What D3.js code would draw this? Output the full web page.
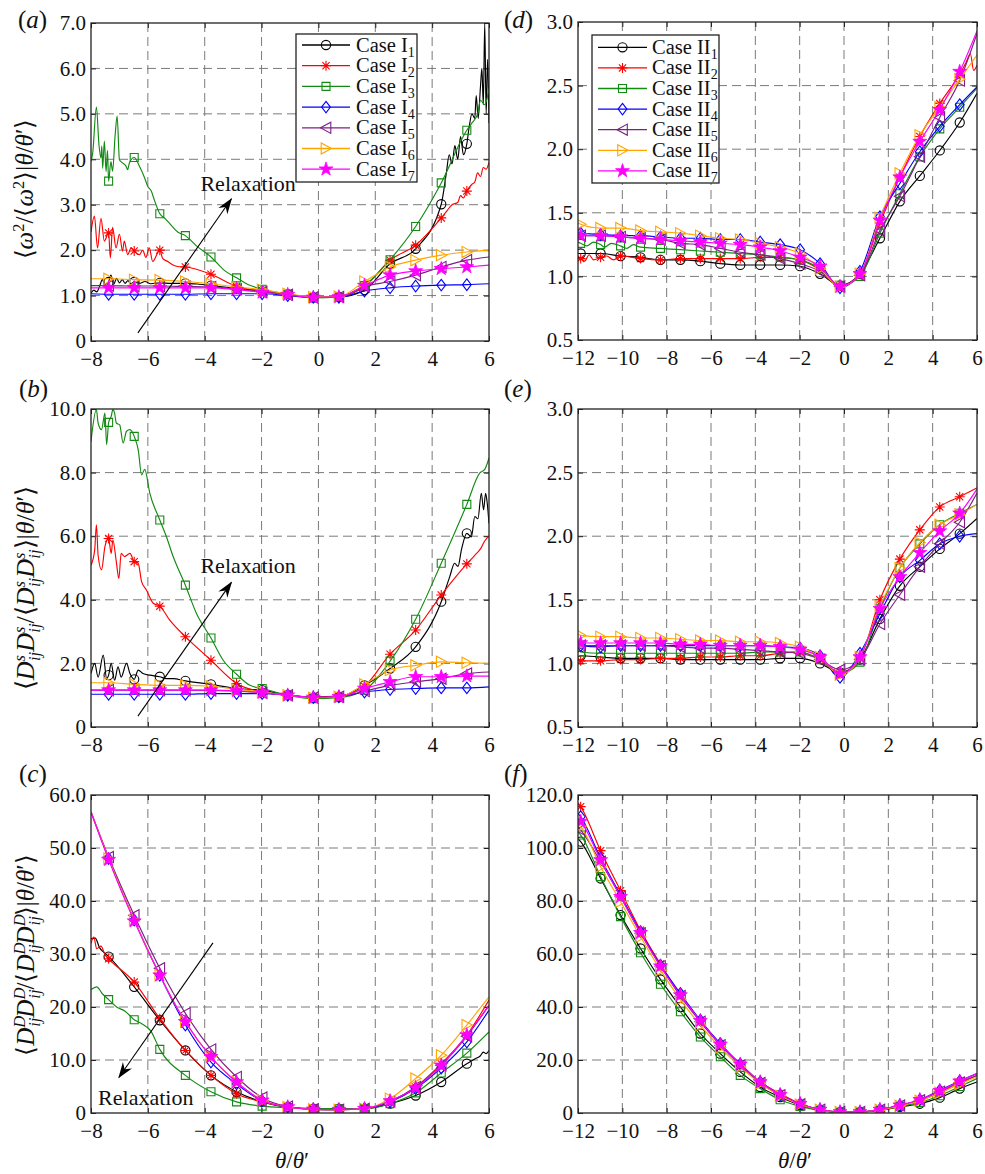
<!DOCTYPE html>
<html><head><meta charset="utf-8">
<script src="https://cdn.jsdelivr.net/npm/d3@7"></script>
<style>body{margin:0;background:#fff}svg{display:block}text{font-family:"Liberation Serif","Times New Roman","DejaVu Serif",serif;fill:#111}</style>
</head><body><svg id="c" width="985" height="1174"></svg>
<script>
// ---------- data ----------
const xTicksI = [-8,-6,-4,-2,0,2,4,6];
const xTicksII = [-12,-10,-8,-6,-4,-2,0,2,4,6];
const yTicksA = [0,1,2,3,4,5,6,7];
const yTicksB = [0,2,4,6,8,10];
const yTicksC = [0,10,20,30,40,50,60];
const yTicksD = [0.5,1,1.5,2,2.5,3];
const yTicksE = [0.5,1,1.5,2,2.5,3];
const yTicksF = [0,20,40,60,80,100,120];

// sample positions (first/last are line ends, the rest carry markers)
const xsI = [-8,-7.38,-6.48,-5.58,-4.68,-3.78,-2.88,-1.98,-1.08,-0.18,0.72,1.62,2.52,3.42,4.32,5.22,6];
const xsII = [-12,-11.88,-10.98,-10.08,-9.18,-8.28,-7.38,-6.48,-5.58,-4.68,-3.78,-2.88,-1.98,-1.08,-0.18,0.72,1.62,2.52,3.42,4.32,5.22,6];

const subsI = ["1","2","3","4","5","6","7"];
const caseI = "Case I", caseII = "Case II";

// panel (a)
const a1 = [1.05,1.3,1.3,1.28,1.27,1.22,1.16,1.1,1.03,0.96,0.97,1.12,1.7,2.03,3.01,4.34,4.8];
const a2 = [2.4,2.38,1.98,2.0,1.63,1.47,1.2,1.1,1.03,0.96,0.97,1.2,1.78,2.11,2.71,3.3,3.93];
const a3 = [3.95,3.52,4.04,2.8,2.32,1.85,1.39,1.14,1.03,0.95,0.97,1.22,1.79,2.52,3.48,4.64,5.56];
const a4 = [1.04,1.03,1.03,1.03,1.03,1.04,1.04,1.04,1.0,0.96,0.96,1.1,1.17,1.21,1.23,1.24,1.26];
const a5 = [1.22,1.22,1.21,1.21,1.2,1.19,1.14,1.08,1.02,0.96,0.97,1.2,1.31,1.45,1.63,1.78,1.85];
const a6 = [1.37,1.37,1.35,1.34,1.31,1.26,1.19,1.13,1.04,0.97,0.98,1.31,1.63,1.78,1.89,1.96,2.0];
const a7 = [1.17,1.17,1.17,1.17,1.17,1.17,1.13,1.07,1.02,0.96,0.97,1.22,1.45,1.54,1.59,1.63,1.67];
const a1n = [[-7.9,1.12],[-7.8,1.08],[-7.7,1.2],[-7.6,1.35],[-7.5,1.2],[-7.3,1.45],[-7.2,1.25],[-7.1,1.38],[-7.0,1.28],[-6.9,1.35],[-6.8,1.27],[-6.7,1.33],[-6.6,1.26],[-6.3,1.27],[-6.1,1.31],[-5.9,1.26],[-5.2,1.27],[-4.2,1.25],[4.5,3.7],[4.6,4.1],[4.7,3.9],[4.8,4.3],[4.9,4.0],[5.0,4.5],[5.1,4.1],[5.3,4.7],[5.4,5.0],[5.5,4.9],[5.55,5.4],[5.62,4.9],[5.7,5.6],[5.75,6.0],[5.8,5.2],[5.85,7.0],[5.9,5.0],[5.95,6.2]];
const a2n = [[-7.88,2.75],[-7.77,2.05],[-7.65,2.7],[-7.53,2.2],[-7.32,1.83],[-7.24,2.5],[-7.12,2.05],[-7.0,2.35],[-6.89,1.98],[-6.83,2.2],[-6.71,1.9],[-6.59,2.05],[-6.3,1.9],[-6.18,2.0],[-6.07,1.84],[-5.95,2.05],[-5.83,1.75],[-5.48,1.82],[-5.3,1.75],[-5.13,1.68],[-4.95,1.64],[4.5,2.85],[4.7,3.0],[4.9,3.05],[5.0,3.2],[5.1,3.15],[5.4,3.45],[5.5,3.5],[5.6,3.7],[5.7,3.62],[5.8,3.82],[5.9,3.78]];
const a3n = [[-7.94,4.14],[-7.81,5.15],[-7.72,4.32],[-7.65,4.03],[-7.62,4.29],[-7.59,3.8],[-7.53,4.4],[-7.47,3.73],[-7.42,4.2],[-7.3,3.95],[-7.24,3.74],[-7.15,4.54],[-7.08,4.95],[-7.0,3.99],[-6.89,3.92],[-6.77,3.85],[-6.71,3.77],[-6.65,3.92],[-6.3,3.85],[-6.12,3.6],[-6.0,3.4],[-5.88,3.3],[-5.77,3.1],[-5.4,2.7],[-5.2,2.56],[-4.95,2.4],[-4.3,2.1],[-3.3,1.55],[-2.5,1.25],[5.4,4.8],[5.6,5.0],[5.7,5.3],[5.85,5.2]];

// panel (b)
const b1 = [1.68,1.63,1.5,1.58,1.45,1.34,1.21,1.16,1.0,0.92,0.95,1.31,1.84,2.52,3.94,6.09,6.4];
const b2 = [5.09,5.93,5.2,3.8,2.84,2.1,1.37,1.1,1.0,0.95,0.97,1.28,2.29,3.05,4.15,5.13,6.01];
const b3 = [8.98,9.58,9.14,6.51,4.46,2.8,1.66,1.21,1.0,0.89,0.92,1.16,2.07,3.39,5.15,7.0,8.46];
const b4 = [1.03,1.03,1.03,1.03,1.03,1.05,1.05,1.05,1.0,0.93,0.95,1.1,1.18,1.21,1.23,1.23,1.26];
const b5 = [1.16,1.16,1.16,1.16,1.16,1.15,1.13,1.08,1.0,0.93,0.95,1.13,1.31,1.42,1.52,1.68,1.73];
const b6 = [1.39,1.39,1.34,1.31,1.31,1.28,1.19,1.1,1.0,0.92,0.95,1.34,1.79,1.94,2.05,2.02,2.0];
const b7 = [1.16,1.16,1.16,1.16,1.16,1.16,1.14,1.08,1.0,0.93,0.95,1.21,1.42,1.58,1.58,1.6,1.6];
const b1n = [[-7.87,2.0],[-7.75,1.57],[-7.57,2.26],[-7.45,1.52],[-7.29,2.0],[-7.17,1.47],[-7.05,1.89],[-6.94,1.57],[-6.75,2.0],[-6.63,1.68],[-6.34,1.79],[-6.17,1.68],[-5.93,1.63],[-5.35,1.52],[-5.11,1.52],[4.62,4.73],[4.79,5.15],[4.91,5.05],[5.03,5.57],[5.38,5.98],[5.5,6.62],[5.61,6.55],[5.73,7.35],[5.81,6.83],[5.88,7.35],[5.93,7.1]];
const b2n = [[-7.87,5.57],[-7.81,6.36],[-7.75,5.4],[-7.63,4.94],[-7.51,5.67],[-7.29,5.46],[-7.23,5.88],[-7.11,5.2],[-7.02,4.67],[-6.94,5.46],[-6.82,5.36],[-6.63,5.46],[-6.34,5.15],[-6.22,4.57],[-6.05,4.31],[-5.81,3.89],[-5.23,3.36],[5.5,5.4],[5.7,5.6],[5.85,5.85]];
const b3n = [[-7.81,9.98],[-7.75,9.56],[-7.63,9.35],[-7.51,9.87],[-7.45,8.88],[-7.29,9.77],[-7.23,9.98],[-7.17,9.87],[-7.11,9.56],[-6.99,9.5],[-6.87,8.93],[-6.75,9.3],[-6.63,9.35],[-6.34,8.72],[-6.22,7.93],[-6.11,8.1],[-5.93,7.35],[-5.35,5.99],[-5.11,5.36],[-4.29,3.57],[-3.35,2.1],[-2.41,1.31],[5.67,7.98],[5.85,8.1]];

// panel (c)
const c1 = [32.9,29.5,23.8,17.5,11.8,7.1,4.0,2.1,1.13,0.82,0.82,0.82,1.76,3.3,5.85,9.3,11.8];
const c2 = [32.0,29.1,24.7,17.8,11.8,7.1,3.65,2.1,1.13,0.69,0.63,0.82,2.1,4.9,9.3,14.7,21.3];
const c3 = [23.3,21.4,17.6,12.0,7.1,4.0,2.1,1.3,1.0,0.82,0.82,0.82,1.76,3.8,7.55,11.3,15.3];
const c4 = [56.8,48.0,36.4,26.0,16.6,9.6,5.5,2.3,1.13,0.69,0.63,0.82,2.1,4.6,8.5,13.4,19.4];
const c5 = [56.8,48.3,37.3,27.3,18.8,12.0,6.8,2.9,1.2,0.69,0.63,0.82,2.2,4.9,9.0,14.5,20.3];
const c6 = [56.8,48.0,36.4,26.0,17.2,10.6,5.85,2.4,1.13,0.69,0.63,0.82,2.7,6.5,10.9,16.6,21.9];
const c7 = [56.8,47.8,36.2,26.0,17.2,10.6,5.85,2.4,1.13,0.69,0.63,0.82,2.27,4.78,9.0,14.7,20.3];
const c1n = [[-7.85,33.0],[-7.7,31.2],[-7.55,30.3],[5.5,10.2],[5.7,10.8],[5.8,11.5],[5.9,11.2]];
const c2n = [[-7.9,33.2],[-7.8,31.0],[-7.65,31.5],[-7.5,29.8]];
const c3n = [[-7.8,23.8],[-7.6,22.5],[-7.1,20.0],[-6.8,19.2],[-6.2,16.8],[-5.9,15.5]];

// panel (d)
const d1 = [1.18,1.18,1.18,1.16,1.15,1.13,1.13,1.12,1.10,1.09,1.09,1.09,1.08,1.02,0.93,1.02,1.30,1.59,1.79,1.99,2.21,2.44];
const d2 = [1.14,1.14,1.15,1.16,1.14,1.13,1.14,1.14,1.14,1.14,1.15,1.15,1.13,1.05,0.92,1.02,1.42,1.78,2.10,2.36,2.59,2.66];
const d3v = [1.27,1.26,1.25,1.24,1.23,1.22,1.21,1.20,1.19,1.18,1.17,1.15,1.13,1.06,0.93,1.0,1.34,1.65,1.94,2.16,2.33,2.48];
const d4 = [1.35,1.34,1.33,1.32,1.32,1.31,1.30,1.30,1.29,1.29,1.27,1.25,1.21,1.10,0.91,1.04,1.47,1.73,1.98,2.18,2.35,2.49];
const d5 = [1.32,1.32,1.32,1.31,1.30,1.29,1.26,1.25,1.22,1.19,1.17,1.14,1.10,1.04,0.92,1.01,1.36,1.63,1.94,2.25,2.54,2.91];
const d6 = [1.42,1.41,1.38,1.38,1.36,1.35,1.34,1.32,1.30,1.29,1.26,1.23,1.18,1.06,0.92,1.02,1.46,1.81,2.11,2.33,2.55,2.74];
const d7 = [1.32,1.32,1.32,1.31,1.30,1.29,1.28,1.27,1.26,1.25,1.23,1.20,1.15,1.08,0.92,1.02,1.44,1.78,2.06,2.31,2.61,2.93];
const d2n = [[-11.7,1.12],[-11.5,1.17],[-11.3,1.13],[-10.7,1.16],[-10.4,1.13],[5.5,2.68],[5.7,2.75],[5.85,2.62]];
const d3n = [[-11.6,1.24],[-11.3,1.27],[-10.8,1.23],[-10.5,1.26],[-9.8,1.22],[-9.5,1.25]];

// panel (e)
const e1 = [1.05,1.06,1.05,1.04,1.04,1.04,1.03,1.03,1.03,1.03,1.03,1.04,1.04,1.0,0.93,1.03,1.35,1.61,1.76,1.90,2.02,2.14];
const e2 = [1.03,1.02,1.02,1.03,1.03,1.04,1.04,1.05,1.05,1.06,1.06,1.08,1.09,1.03,0.92,1.04,1.50,1.82,2.05,2.23,2.31,2.38];
const e3 = [1.10,1.09,1.08,1.08,1.08,1.08,1.08,1.08,1.08,1.08,1.09,1.09,1.09,1.03,0.92,1.01,1.43,1.75,1.94,2.09,2.18,2.25];
const e4 = [1.16,1.14,1.13,1.14,1.14,1.14,1.14,1.14,1.14,1.14,1.14,1.13,1.12,1.06,0.89,1.08,1.39,1.68,1.81,1.94,2.0,2.02];
const e5 = [1.14,1.14,1.14,1.14,1.14,1.14,1.13,1.12,1.12,1.11,1.10,1.09,1.08,1.03,0.95,1.03,1.31,1.54,1.76,1.94,2.11,2.34];
const e6 = [1.23,1.22,1.21,1.21,1.20,1.20,1.19,1.18,1.18,1.17,1.17,1.16,1.13,1.05,0.91,1.05,1.45,1.75,1.95,2.09,2.17,2.25];
const e7 = [1.17,1.16,1.16,1.16,1.16,1.16,1.15,1.15,1.14,1.14,1.14,1.13,1.11,1.05,0.92,1.05,1.43,1.68,1.87,2.04,2.18,2.37];

// panel (f)
const f1 = [103.5,102.4,88.5,74.7,62.1,50.4,40.0,30.0,22.4,15.5,9.8,6.0,2.9,1.0,0.25,0.4,1.0,2.3,3.5,5.8,9.2,11.7];
const f2 = [117,115.6,99.0,83.9,69.0,56.2,44.5,34.8,25.9,18.6,11.7,7.3,3.5,1.3,0.4,0.4,1.3,2.9,4.8,7.6,11.1,14.2];
const f3 = [106,104.9,89.2,74.1,60.5,48.6,38.2,28.7,21.2,14.2,9.2,5.0,2.5,1.0,0.3,0.4,1.0,2.5,4.0,6.5,10.0,13.0];
const f4 = [113,111.8,96.1,82.2,68.4,55.8,45.1,35.0,26.2,18.4,11.7,6.9,3.5,1.3,0.4,0.4,1.3,2.9,5.0,8.6,12.1,14.9];
const f5 = [108,106.8,94.8,81.6,67.8,55.4,44.1,34.4,25.6,18.0,11.3,6.7,3.3,1.2,0.4,0.4,1.2,2.8,4.8,8.0,11.5,14.2];
const f6 = [109,108.1,92.9,79.7,66.5,53.9,42.8,33.1,24.7,17.4,11.1,6.5,3.2,1.2,0.4,0.4,1.2,2.7,4.6,7.6,11.0,13.6];
const f7 = [111,110.0,95.5,81.6,68.0,55.4,44.5,34.8,25.9,18.4,11.7,6.9,3.5,1.3,0.4,0.4,1.3,2.9,5.0,8.4,12.0,14.9];

// ---------- styles ----------
const colors = ["#000000","#ff0000","#138a13","#0000ff","#7e1f86","#ffa500","#ff00ff"];
const symbols = ["o","*","s","d","<",">","p"];
const SERIF = '"Liberation Serif","Times New Roman",serif';

const svg = d3.select("#c");
const defs = svg.append("defs");
defs.append("marker").attr("id","ah").attr("viewBox","-17 -7 19 14").attr("markerWidth",19).attr("markerHeight",14)
  .attr("markerUnits","userSpaceOnUse").attr("orient","auto").attr("refX",0).attr("refY",0)
  .append("path").attr("d","M1,0 L-15,-5.5 L-10,0 L-15,5.5 Z").attr("fill","#000");

function symPath(t, x, y){
  switch(t){
    case "*": return `M${x-5},${y}H${x+5}M${x},${y-5}V${y+5}M${x-3.6},${y-3.6}L${x+3.6},${y+3.6}M${x-3.6},${y+3.6}L${x+3.6},${y-3.6}`;
    case "s": return `M${x-4},${y-4}h8v8h-8Z`;
    case "d": return `M${x},${y-5.8}L${x+4.4},${y}L${x},${y+5.8}L${x-4.4},${y}Z`;
    case "<": return `M${x-5.5},${y}L${x+4.8},${y-5.6}L${x+4.8},${y+5.6}Z`;
    case ">": return `M${x+5.5},${y}L${x-4.8},${y-5.6}L${x-4.8},${y+5.6}Z`;
    case "p": return d3.symbol(d3.symbolStar, 60)().replace(/(-?\d*\.?\d+(?:e-?\d+)?),(-?\d*\.?\d+(?:e-?\d+)?)/g,(m,a,b)=>`${(+a+x).toFixed(2)},${(+b+y).toFixed(2)}`);
  }
}
function drawSym(g, t, x, y, c){
  if(t==="o"){ g.append("circle").attr("cx",x).attr("cy",y).attr("r",4.6).attr("fill","none").attr("stroke",c).attr("stroke-width",1.1); return; }
  const p = g.append("path").attr("d",symPath(t,x,y)).attr("stroke",c).attr("stroke-width",1.1);
  if(t==="p") p.attr("fill",c).attr("stroke-width",0.8); else p.attr("fill","none");
}

function yFmt(v){ return v===0 ? "0" : d3.format(".1f")(v); }

let clipId = 0;
function panel(cfg){
  const {x0,x1,y0,y1,xd,yd,xt,yt,xs,series,noise} = cfg;
  const x = d3.scaleLinear().domain(xd).range([x0,x1]);
  const y = d3.scaleLinear().domain(yd).range([y1,y0]);
  const g = svg.append("g");
  // grid
  const gg = g.append("g").attr("stroke","#7a7a7a").attr("stroke-width",1).attr("stroke-dasharray","9,5");
  xt.filter(v=>v>xd[0]&&v<xd[1]).forEach(v=>gg.append("line").attr("x1",x(v)).attr("x2",x(v)).attr("y1",y0).attr("y2",y1));
  yt.filter(v=>v>yd[0]&&v<yd[1]).forEach(v=>gg.append("line").attr("x1",x0).attr("x2",x1).attr("y1",y(v)).attr("y2",y(v)));
  // axes
  const fs = "21px";
  const ax = g.append("g").attr("transform",`translate(0,${y1})`).call(d3.axisBottom(x).tickValues(xt).tickSize(-5).tickPadding(10).tickFormat(d3.format("d")));
  const axT = g.append("g").attr("transform",`translate(0,${y0})`).call(d3.axisTop(x).tickValues(xt).tickSize(-5).tickFormat(""));
  const ay = g.append("g").attr("transform",`translate(${x0},0)`).call(d3.axisLeft(y).tickValues(yt).tickSize(-5).tickPadding(5).tickFormat(yFmt));
  const ayR = g.append("g").attr("transform",`translate(${x1},0)`).call(d3.axisRight(y).tickValues(yt).tickSize(-5).tickFormat(""));
  [ax,axT,ay,ayR].forEach(a=>{a.attr("font-family",null).attr("font-size",null); a.select(".domain").remove(); a.selectAll("line").attr("stroke","#222");
    a.selectAll("text").style("font-size",fs).style("font-family",SERIF).attr("fill","#111");});
  // clip
  const id = "clip"+(clipId++);
  defs.append("clipPath").attr("id",id).append("rect").attr("x",x0).attr("y",y0).attr("width",x1-x0).attr("height",y1-y0);
  const pg = g.append("g").attr("clip-path",`url(#${id})`);
  const line = d3.line().x(d=>x(d[0])).y(d=>y(d[1])).curve(d3.curveMonotoneX);
  series.forEach((ys,i)=>{
    const pts = xs.map((xv,k)=>[xv,ys[k]]).concat(noise[i]||[]).sort((p,q)=>p[0]-q[0]);
    pg.append("path").attr("d",line(pts)).attr("fill","none").attr("stroke",colors[i]).attr("stroke-width",1.15);
    const mg = pg.append("g");
    xs.forEach((xv,k)=>{ if(k>0 && k<xs.length-1) drawSym(mg, symbols[i], x(xv), y(ys[k]), colors[i]); });
  });
  // frame
  g.append("rect").attr("x",x0).attr("y",y0).attr("width",x1-x0).attr("height",y1-y0).attr("fill","none").attr("stroke","#222").attr("stroke-width",1.3);
  // panel label
  const pl = svg.append("text").attr("x",cfg.lab[0]).attr("y",cfg.lab[1]).style("font-size","25px").style("font-family",SERIF);
  pl.append("tspan").text("(");
  pl.append("tspan").attr("font-style","italic").text(cfg.lab[2]);
  pl.append("tspan").text(")");
  return {x,y,g};
}

function legend(lx, ly, w, h, rowY0, dy, l0, l1, tx, base){
  const g = svg.append("g");
  g.append("rect").attr("x",lx).attr("y",ly).attr("width",w).attr("height",h).attr("fill","#fff").attr("stroke","#222").attr("stroke-width",1.3);
  subsI.forEach((s,i)=>{
    const yy = rowY0 + i*dy;
    g.append("line").attr("x1",l0).attr("x2",l1).attr("y1",yy).attr("y2",yy).attr("stroke",colors[i]).attr("stroke-width",1.3);
    drawSym(g, symbols[i], (l0+l1)/2, yy, colors[i]);
    const t = g.append("text").attr("x",tx).attr("y",yy+6.5).style("font-size","20.5px").style("font-family",SERIF);
    t.append("tspan").text(base);
    t.append("tspan").style("font-size","14px").attr("dy",5).text(s);
  });
}

function arrow(p, from, to){
  svg.append("line").attr("x1",p.x(from[0])).attr("y1",p.y(from[1])).attr("x2",p.x(to[0])).attr("y2",p.y(to[1]))
    .attr("stroke","#000").attr("stroke-width",1.1).attr("marker-end","url(#ah)");
}
function relaxText(p, at){
  svg.append("text").attr("x",p.x(at[0])).attr("y",p.y(at[1])).style("font-size","22px").style("font-family",SERIF).text("Relaxation");
}

// y-axis labels built of parts
function ylabel(cx, cy, size, parts){
  const t = svg.append("text").attr("transform",`translate(${cx},${cy}) rotate(-90)`).attr("text-anchor","middle").style("font-size",size+"px").style("font-family",SERIF);
  let shift = 0;
  parts.forEach(p=>{
    const s = t.append("tspan").text(p.t);
    if(p.i) s.attr("font-style","italic");
    let target = 0;
    if(p.sh==="sup"){ target=-9; s.style("font-size","16.5px"); }
    if(p.sh==="sub"){ target=6; s.style("font-size","16.5px"); }
    if(target!==shift) s.attr("dy", target-shift);
    if(p.dx) s.attr("dx", p.dx);
    shift = target;
  });
}
function dPair(sup, back){
  return [{t:"D",i:1},{t:sup,i:1,sh:"sup"},{t:"ij",i:1,sh:"sub",dx:back}];
}

// ---------- panels ----------
const colL = {x0:91, x1:489}, colR = {x0:578, x1:977};
const rows = [{y0:23,y1:341},{y0:409,y1:727},{y0:795,y1:1113}];

const pa = panel({...colL,...rows[0],xd:[-8,6],yd:[0,7],xt:xTicksI,yt:yTicksA,xs:xsI,series:[a1,a2,a3,a4,a5,a6,a7],noise:[a1n,a2n,a3n],lab:[18,28,"a"]});
const pb = panel({...colL,...rows[1],xd:[-8,6],yd:[0,10],xt:xTicksI,yt:yTicksB,xs:xsI,series:[b1,b2,b3,b4,b5,b6,b7],noise:[b1n,b2n,b3n],lab:[19,397,"b"]});
const pc = panel({...colL,...rows[2],xd:[-8,6],yd:[0,60],xt:xTicksI,yt:yTicksC,xs:xsI,series:[c1,c2,c3,c4,c5,c6,c7],noise:[c1n,c2n,c3n],lab:[19,782,"c"]});
const pd = panel({...colR,...rows[0],y0:22,y1:340,xd:[-12,6],yd:[0.5,3],xt:xTicksII,yt:yTicksD,xs:xsII,series:[d1,d2,d3v,d4,d5,d6,d7],noise:[null,d2n,d3n],lab:[504,28,"d"]});
const pe = panel({...colR,...rows[1],xd:[-12,6],yd:[0.5,3],xt:xTicksII,yt:yTicksE,xs:xsII,series:[e1,e2,e3,e4,e5,e6,e7],noise:[],lab:[504,397,"e"]});
const pf = panel({...colR,...rows[2],xd:[-12,6],yd:[0,120],xt:xTicksII,yt:yTicksF,xs:xsII,series:[f1,f2,f3,f4,f5,f6,f7],noise:[],lab:[504,782,"f"]});

legend(296,34,121,148,45,20.7,302,350,356,caseI);
legend(592,35,127,148,47.3,20.6,598,647,652,caseII);

arrow(pa,[-6.35,0.18],[-3.06,3.13]); relaxText(pa,[-4.15,3.3]);
arrow(pb,[-6.35,0.34],[-3.06,4.55]); relaxText(pb,[-4.15,4.85]);
arrow(pc,[-3.71,32.1],[-7.02,6.69]); relaxText(pc,[-7.75,1.45]);

// axis titles
[[292,1168],[795,1168]].forEach(([cx,cy])=>{
  const t = svg.append("text").attr("x",cx).attr("y",cy).attr("text-anchor","middle").style("font-size","23px").style("font-family",SERIF);
  t.append("tspan").attr("font-style","italic").text("θ");
  t.append("tspan").text("/");
  t.append("tspan").attr("font-style","italic").text("θ");
  t.append("tspan").text("′");
});

const tail = [{t:"⟩|"},{t:"θ",i:1},{t:"/"},{t:"θ",i:1},{t:"′⟩"}];
ylabel(33,189,25,[{t:"⟨"},{t:"ω",i:1},{t:"2",sh:"sup"},{t:"/⟨"},{t:"ω",i:1},{t:"2",sh:"sup"},...tail]);
ylabel(34,588,26,[{t:"⟨"},...dPair("s",-6),...dPair("s",-6),{t:"/⟨"},...dPair("s",-6),...dPair("s",-6),...tail]);
ylabel(34,955,25,[{t:"⟨"},...dPair("D",-11),...dPair("D",-11),{t:"/⟨"},...dPair("D",-11),...dPair("D",-11),...tail]);
</script></body></html>
